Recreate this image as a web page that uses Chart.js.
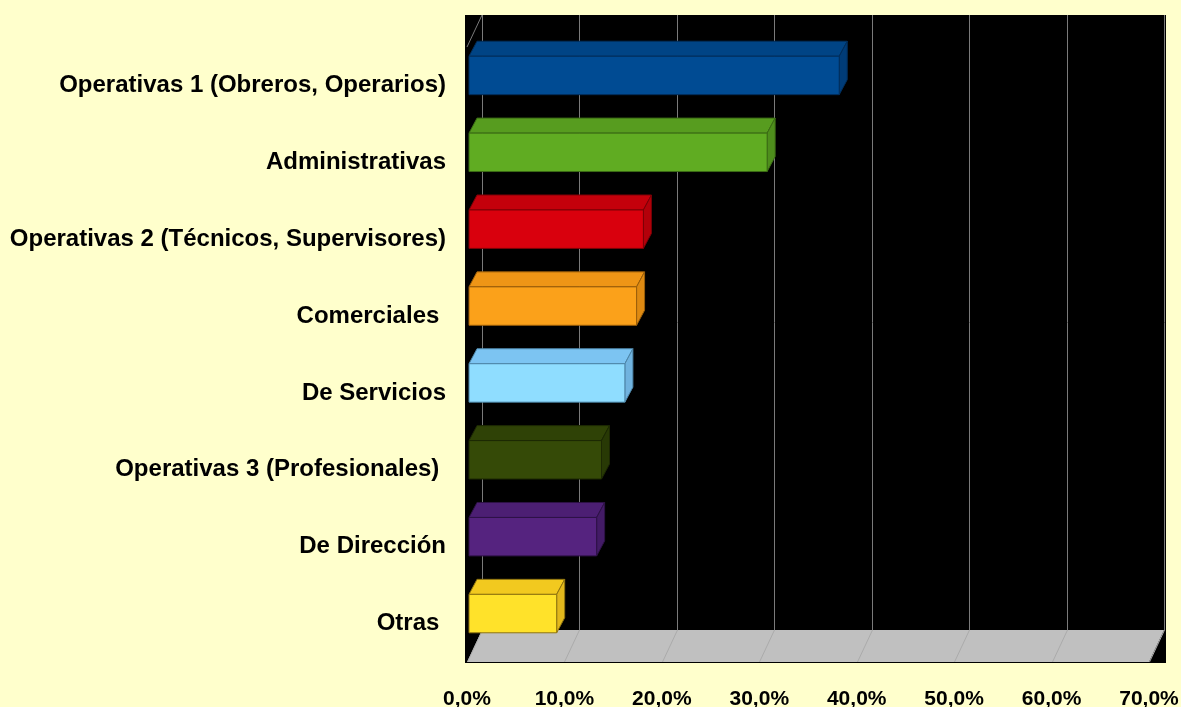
<!DOCTYPE html>
<html>
<head>
<meta charset="utf-8">
<script src="https://cdn.jsdelivr.net/npm/chart.js@4/dist/chart.umd.min.js"></script>
<style>
  html, body { margin: 0; padding: 0; background: #FFFFCC; }
  #wrap { width: 1181px; height: 707px; }
</style>
</head>
<body>
<div id="wrap"><canvas id="ocupaciones" width="1181" height="707"></canvas></div>
<script>
const categories = [
  "Operativas 1 (Obreros, Operarios)",
  "Administrativas",
  "Operativas 2 (Técnicos, Supervisores)",
  "Comerciales ",
  "De Servicios",
  "Operativas 3 (Profesionales) ",
  "De Dirección",
  "Otras "
];
const values = [38.0, 30.6, 17.9, 17.2, 16.0, 13.6, 13.1, 9.0];
const tickValues = [0, 10, 20, 30, 40, 50, 60, 70];

const frontColors = ["#004B93", "#60AC22", "#D9000D", "#FBA11A", "#8FDDFF", "#354A07", "#55237F", "#FFE22A"];
const topColors   = ["#004485", "#579C1F", "#C4000B", "#EE9516", "#7CC4F2", "#2F4206", "#4C1F73", "#F2C91F"];
const sideColors  = ["#003C78", "#4E8E1C", "#B3000A", "#DE8A12", "#70B3DF", "#283905", "#431B66", "#E2B81C"];
const edgeColors  = ["#002E5C", "#3B6B15", "#7A0007", "#9A5E0A", "#4D86A8", "#1C2803", "#2E1246", "#8F7410"];

// 3D offsets (px)
const WALL_DX = 15, WALL_DY = -32;
const BAR_DX = 8, BAR_DY = -15;
const BAR_SHIFT_X = 2, BAR_SHIFT_Y = -10;

const fontFamily = "'Liberation Sans', Arial, sans-serif";

const wallPlugin = {
  id: 'wall3d',
  beforeDatasetsDraw(chart) {
    const { ctx, chartArea: a, scales: { x } } = chart;
    ctx.save();
    // back wall + side wall (all black)
    ctx.fillStyle = '#000000';
    ctx.fillRect(a.left - 2, a.top + WALL_DY, (a.right + WALL_DX + 2) - (a.left - 2), a.bottom - (a.top + WALL_DY) + 1);

    // floor
    ctx.fillStyle = '#C0C0C0';
    ctx.beginPath();
    ctx.moveTo(a.left, a.bottom);
    ctx.lineTo(a.right, a.bottom);
    ctx.lineTo(a.right + WALL_DX, a.bottom + WALL_DY);
    ctx.lineTo(a.left + WALL_DX, a.bottom + WALL_DY);
    ctx.closePath();
    ctx.fill();

    // grid lines on wall and floor
    tickValues.forEach(v => {
      const px = Math.round(x.getPixelForValue(v)) + 0.5;
      ctx.strokeStyle = '#7A7A7A';
      ctx.lineWidth = 1;
      ctx.beginPath();
      ctx.moveTo(px + WALL_DX, a.top + WALL_DY);
      ctx.lineTo(px + WALL_DX, a.bottom + WALL_DY);
      ctx.stroke();
      ctx.strokeStyle = '#ABABAB';
      ctx.beginPath();
      ctx.moveTo(px, a.bottom);
      ctx.lineTo(px + WALL_DX, a.bottom + WALL_DY);
      ctx.stroke();
    });

    // left wall top edge
    ctx.strokeStyle = '#7A7A7A';
    ctx.beginPath();
    ctx.moveTo(a.left, a.top);
    ctx.lineTo(a.left + WALL_DX, a.top + WALL_DY);
    ctx.stroke();
    ctx.restore();
  }
};

const barsPlugin = {
  id: 'bars3d',
  afterDatasetsDraw(chart) {
    const { ctx } = chart;
    const meta = chart.getDatasetMeta(0);
    ctx.save();
    ctx.lineWidth = 1;
    ctx.lineJoin = 'round';
    meta.data.forEach((bar, i) => {
      const { x, y, base, height } = bar.getProps(['x', 'y', 'base', 'height'], true);
      const x0 = base + BAR_SHIFT_X, x1 = x + BAR_SHIFT_X;
      const top = y - height / 2 + BAR_SHIFT_Y, bot = y + height / 2 + BAR_SHIFT_Y;
      ctx.strokeStyle = edgeColors[i];

      // top face
      ctx.fillStyle = topColors[i];
      ctx.beginPath();
      ctx.moveTo(x0, top);
      ctx.lineTo(x1, top);
      ctx.lineTo(x1 + BAR_DX, top + BAR_DY);
      ctx.lineTo(x0 + BAR_DX, top + BAR_DY);
      ctx.closePath();
      ctx.fill();
      ctx.stroke();

      // side face
      ctx.fillStyle = sideColors[i];
      ctx.beginPath();
      ctx.moveTo(x1, top);
      ctx.lineTo(x1 + BAR_DX, top + BAR_DY);
      ctx.lineTo(x1 + BAR_DX, bot + BAR_DY);
      ctx.lineTo(x1, bot);
      ctx.closePath();
      ctx.fill();
      ctx.stroke();

      // front face
      ctx.fillStyle = frontColors[i];
      ctx.fillRect(x0, top, x1 - x0, bot - top);
      ctx.strokeRect(x0, top, x1 - x0, bot - top);
    });
    ctx.restore();
  }
};

new Chart(document.getElementById('ocupaciones'), {
  type: 'bar',
  data: {
    labels: categories,
    datasets: [{
      data: values,
      backgroundColor: 'rgba(0,0,0,0)',
      borderWidth: 0,
      barPercentage: 0.5,
      categoryPercentage: 1
    }]
  },
  options: {
    indexAxis: 'y',
    responsive: false,
    animation: false,
    layout: { padding: { top: 47, right: 32, bottom: 0, left: 0 } },
    plugins: {
      legend: { display: false },
      tooltip: { enabled: false }
    },
    scales: {
      x: {
        min: 0,
        max: 70,
        grid: { display: false, drawTicks: false },
        border: { display: false },
        afterFit(scale) {
          scale.height = 45;
          scale.paddingLeft = 0;
          scale.paddingRight = 0;
        },
        ticks: {
          stepSize: 10,
          padding: 25,
          maxRotation: 0,
          color: '#000000',
          font: { family: fontFamily, size: 21, weight: 'bold' },
          callback: v => v.toFixed(1).replace('.', ',') + '%'
        }
      },
      y: {
        grid: { display: false, drawTicks: false },
        border: { display: false },
        afterFit(scale) { scale.width = 467; },
        ticks: {
          padding: 21,
          color: '#000000',
          font: { family: fontFamily, size: 24, weight: 'bold' }
        }
      }
    }
  },
  plugins: [wallPlugin, barsPlugin]
});
</script>
</body>
</html>
